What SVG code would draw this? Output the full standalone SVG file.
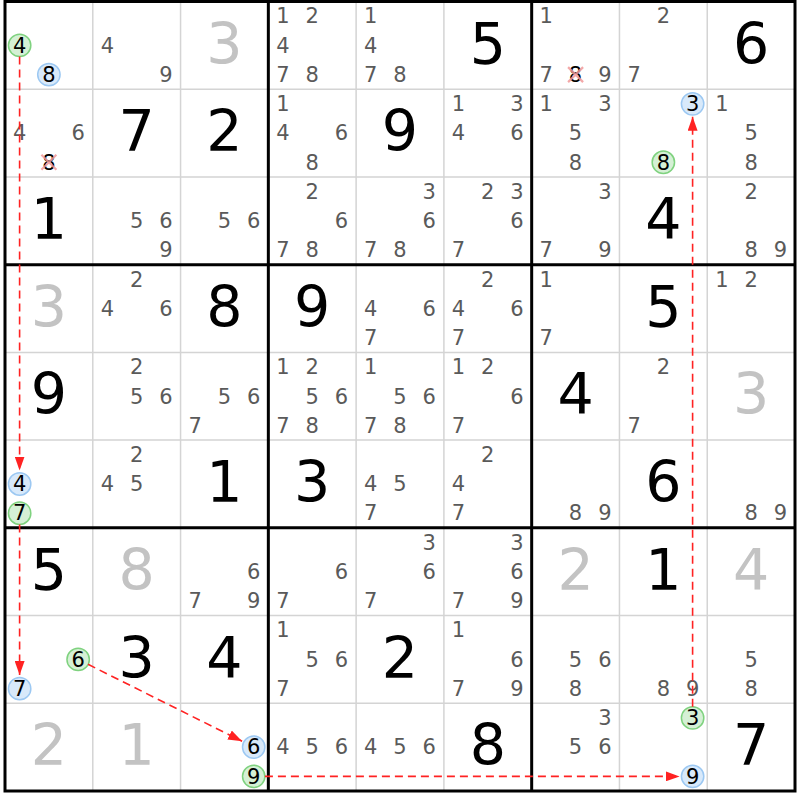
<svg xmlns="http://www.w3.org/2000/svg" width="800" height="800" viewBox="0 0 800 800">
<style>
.c{font-family:"DejaVu Sans",Verdana,sans-serif;font-size:21px;fill:#5a5a5a;text-anchor:middle}
.k{fill:#000}
.b{font-family:"DejaVu Sans",Verdana,sans-serif;font-size:57px;fill:#000;text-anchor:middle}
.g{fill:#c3c3c3}
.thin{stroke:#d4d4d4;stroke-width:1.5;fill:none}
.thick{stroke:#000;stroke-width:3;fill:none}
.on{fill:#d5f0d5;stroke:#7fd27f;stroke-width:1.5}
.off{fill:#d8e9fa;stroke:#9cc8f2;stroke-width:1.5}
.x{stroke:#f29a9a;stroke-width:2.2;opacity:0.85}
.link{stroke:#f22;stroke-width:1.6;stroke-dasharray:8 5;fill:none;marker-end:url(#ah)}
</style>
<defs>
<marker id="ah" markerUnits="userSpaceOnUse" markerWidth="14" markerHeight="10" refX="14" refY="5" orient="auto">
<path d="M0,0 L14,5 L0,10 z" fill="#f22"/>
</marker>
</defs>
<rect x="0" y="0" width="800" height="800" fill="#fff"/>
<g id="grid">
<path class="thin" d="M92.78,1.5V791 M180.56,1.5V791 M356.12,1.5V791 M443.9,1.5V791 M619.46,1.5V791 M707.24,1.5V791 M5,89.22H795 M5,176.94H795 M5,352.38H795 M5,440.1H795 M5,615.54H795 M5,703.26H795"/>
<path class="thick" d="M268.34,1.5V791 M531.68,1.5V791 M5,264.66H795 M5,527.82H795"/>
<rect class="thick" x="5" y="1.5" width="790" height="789.5"/>
</g>
<!-- row 0 -->
<g id="r0c0" transform="translate(5,1.5)"><circle class="on" cx="14.63" cy="43.86" r="11.2"/><circle class="off" cx="43.89" cy="73.1" r="11.2"/><text class="c k" x="14.63" y="51.2">4</text><text class="c k" x="43.89" y="80.4">8</text></g>
<g id="r0c1" transform="translate(92.78,1.5)"><text class="c" x="14.63" y="51.2">4</text><text class="c" x="73.15" y="80.4">9</text></g>
<g id="r0c2" transform="translate(180.56,1.5)"><text class="b g" x="43.89" y="62">3</text></g>
<g id="r0c3" transform="translate(268.34,1.5)"><text class="c" x="14.63" y="21.9">1</text><text class="c" x="43.89" y="21.9">2</text><text class="c" x="14.63" y="51.2">4</text><text class="c" x="14.63" y="80.4">7</text><text class="c" x="43.89" y="80.4">8</text></g>
<g id="r0c4" transform="translate(356.12,1.5)"><text class="c" x="14.63" y="21.9">1</text><text class="c" x="14.63" y="51.2">4</text><text class="c" x="14.63" y="80.4">7</text><text class="c" x="43.89" y="80.4">8</text></g>
<g id="r0c5" transform="translate(443.9,1.5)"><text class="b" x="43.89" y="62">5</text></g>
<g id="r0c6" transform="translate(531.68,1.5)"><text class="c" x="14.63" y="21.9">1</text><text class="c" x="14.63" y="80.4">7</text><text class="c k" x="43.89" y="80.4">8</text><path class="x" d="M36.4,65.6 L51.4,80.6 M51.4,65.6 L36.4,80.6"/><text class="c" x="73.15" y="80.4">9</text></g>
<g id="r0c7" transform="translate(619.46,1.5)"><text class="c" x="43.89" y="21.9">2</text><text class="c" x="14.63" y="80.4">7</text></g>
<g id="r0c8" transform="translate(707.24,1.5)"><text class="b" x="43.89" y="62">6</text></g>
<!-- row 1 -->
<g id="r1c0" transform="translate(5,89.22)"><text class="c" x="14.63" y="51.2">4</text><text class="c" x="73.15" y="51.2">6</text><text class="c k" x="43.89" y="80.4">8</text><path class="x" d="M36.4,65.6 L51.4,80.6 M51.4,65.6 L36.4,80.6"/></g>
<g id="r1c1" transform="translate(92.78,89.22)"><text class="b" x="43.89" y="62">7</text></g>
<g id="r1c2" transform="translate(180.56,89.22)"><text class="b" x="43.89" y="62">2</text></g>
<g id="r1c3" transform="translate(268.34,89.22)"><text class="c" x="14.63" y="21.9">1</text><text class="c" x="14.63" y="51.2">4</text><text class="c" x="73.15" y="51.2">6</text><text class="c" x="43.89" y="80.4">8</text></g>
<g id="r1c4" transform="translate(356.12,89.22)"><text class="b" x="43.89" y="62">9</text></g>
<g id="r1c5" transform="translate(443.9,89.22)"><text class="c" x="14.63" y="21.9">1</text><text class="c" x="73.15" y="21.9">3</text><text class="c" x="14.63" y="51.2">4</text><text class="c" x="73.15" y="51.2">6</text></g>
<g id="r1c6" transform="translate(531.68,89.22)"><text class="c" x="14.63" y="21.9">1</text><text class="c" x="73.15" y="21.9">3</text><text class="c" x="43.89" y="51.2">5</text><text class="c" x="43.89" y="80.4">8</text></g>
<g id="r1c7" transform="translate(619.46,89.22)"><circle class="off" cx="73.15" cy="14.62" r="11.2"/><circle class="on" cx="43.89" cy="73.1" r="11.2"/><text class="c k" x="73.15" y="21.9">3</text><text class="c k" x="43.89" y="80.4">8</text></g>
<g id="r1c8" transform="translate(707.24,89.22)"><text class="c" x="14.63" y="21.9">1</text><text class="c" x="43.89" y="51.2">5</text><text class="c" x="43.89" y="80.4">8</text></g>
<!-- row 2 -->
<g id="r2c0" transform="translate(5,176.94)"><text class="b" x="43.89" y="62">1</text></g>
<g id="r2c1" transform="translate(92.78,176.94)"><text class="c" x="43.89" y="51.2">5</text><text class="c" x="73.15" y="51.2">6</text><text class="c" x="73.15" y="80.4">9</text></g>
<g id="r2c2" transform="translate(180.56,176.94)"><text class="c" x="43.89" y="51.2">5</text><text class="c" x="73.15" y="51.2">6</text></g>
<g id="r2c3" transform="translate(268.34,176.94)"><text class="c" x="43.89" y="21.9">2</text><text class="c" x="73.15" y="51.2">6</text><text class="c" x="14.63" y="80.4">7</text><text class="c" x="43.89" y="80.4">8</text></g>
<g id="r2c4" transform="translate(356.12,176.94)"><text class="c" x="73.15" y="21.9">3</text><text class="c" x="73.15" y="51.2">6</text><text class="c" x="14.63" y="80.4">7</text><text class="c" x="43.89" y="80.4">8</text></g>
<g id="r2c5" transform="translate(443.9,176.94)"><text class="c" x="43.89" y="21.9">2</text><text class="c" x="73.15" y="21.9">3</text><text class="c" x="73.15" y="51.2">6</text><text class="c" x="14.63" y="80.4">7</text></g>
<g id="r2c6" transform="translate(531.68,176.94)"><text class="c" x="73.15" y="21.9">3</text><text class="c" x="14.63" y="80.4">7</text><text class="c" x="73.15" y="80.4">9</text></g>
<g id="r2c7" transform="translate(619.46,176.94)"><text class="b" x="43.89" y="62">4</text></g>
<g id="r2c8" transform="translate(707.24,176.94)"><text class="c" x="43.89" y="21.9">2</text><text class="c" x="43.89" y="80.4">8</text><text class="c" x="73.15" y="80.4">9</text></g>
<!-- row 3 -->
<g id="r3c0" transform="translate(5,264.66)"><text class="b g" x="43.89" y="62">3</text></g>
<g id="r3c1" transform="translate(92.78,264.66)"><text class="c" x="43.89" y="21.9">2</text><text class="c" x="14.63" y="51.2">4</text><text class="c" x="73.15" y="51.2">6</text></g>
<g id="r3c2" transform="translate(180.56,264.66)"><text class="b" x="43.89" y="62">8</text></g>
<g id="r3c3" transform="translate(268.34,264.66)"><text class="b" x="43.89" y="62">9</text></g>
<g id="r3c4" transform="translate(356.12,264.66)"><text class="c" x="14.63" y="51.2">4</text><text class="c" x="73.15" y="51.2">6</text><text class="c" x="14.63" y="80.4">7</text></g>
<g id="r3c5" transform="translate(443.9,264.66)"><text class="c" x="43.89" y="21.9">2</text><text class="c" x="14.63" y="51.2">4</text><text class="c" x="73.15" y="51.2">6</text><text class="c" x="14.63" y="80.4">7</text></g>
<g id="r3c6" transform="translate(531.68,264.66)"><text class="c" x="14.63" y="21.9">1</text><text class="c" x="14.63" y="80.4">7</text></g>
<g id="r3c7" transform="translate(619.46,264.66)"><text class="b" x="43.89" y="62">5</text></g>
<g id="r3c8" transform="translate(707.24,264.66)"><text class="c" x="14.63" y="21.9">1</text><text class="c" x="43.89" y="21.9">2</text></g>
<!-- row 4 -->
<g id="r4c0" transform="translate(5,352.38)"><text class="b" x="43.89" y="62">9</text></g>
<g id="r4c1" transform="translate(92.78,352.38)"><text class="c" x="43.89" y="21.9">2</text><text class="c" x="43.89" y="51.2">5</text><text class="c" x="73.15" y="51.2">6</text></g>
<g id="r4c2" transform="translate(180.56,352.38)"><text class="c" x="43.89" y="51.2">5</text><text class="c" x="73.15" y="51.2">6</text><text class="c" x="14.63" y="80.4">7</text></g>
<g id="r4c3" transform="translate(268.34,352.38)"><text class="c" x="14.63" y="21.9">1</text><text class="c" x="43.89" y="21.9">2</text><text class="c" x="43.89" y="51.2">5</text><text class="c" x="73.15" y="51.2">6</text><text class="c" x="14.63" y="80.4">7</text><text class="c" x="43.89" y="80.4">8</text></g>
<g id="r4c4" transform="translate(356.12,352.38)"><text class="c" x="14.63" y="21.9">1</text><text class="c" x="43.89" y="51.2">5</text><text class="c" x="73.15" y="51.2">6</text><text class="c" x="14.63" y="80.4">7</text><text class="c" x="43.89" y="80.4">8</text></g>
<g id="r4c5" transform="translate(443.9,352.38)"><text class="c" x="14.63" y="21.9">1</text><text class="c" x="43.89" y="21.9">2</text><text class="c" x="73.15" y="51.2">6</text><text class="c" x="14.63" y="80.4">7</text></g>
<g id="r4c6" transform="translate(531.68,352.38)"><text class="b" x="43.89" y="62">4</text></g>
<g id="r4c7" transform="translate(619.46,352.38)"><text class="c" x="43.89" y="21.9">2</text><text class="c" x="14.63" y="80.4">7</text></g>
<g id="r4c8" transform="translate(707.24,352.38)"><text class="b g" x="43.89" y="62">3</text></g>
<!-- row 5 -->
<g id="r5c0" transform="translate(5,440.1)"><circle class="off" cx="14.63" cy="43.86" r="11.2"/><circle class="on" cx="14.63" cy="73.1" r="11.2"/><text class="c k" x="14.63" y="51.2">4</text><text class="c k" x="14.63" y="80.4">7</text></g>
<g id="r5c1" transform="translate(92.78,440.1)"><text class="c" x="43.89" y="21.9">2</text><text class="c" x="14.63" y="51.2">4</text><text class="c" x="43.89" y="51.2">5</text></g>
<g id="r5c2" transform="translate(180.56,440.1)"><text class="b" x="43.89" y="62">1</text></g>
<g id="r5c3" transform="translate(268.34,440.1)"><text class="b" x="43.89" y="62">3</text></g>
<g id="r5c4" transform="translate(356.12,440.1)"><text class="c" x="14.63" y="51.2">4</text><text class="c" x="43.89" y="51.2">5</text><text class="c" x="14.63" y="80.4">7</text></g>
<g id="r5c5" transform="translate(443.9,440.1)"><text class="c" x="43.89" y="21.9">2</text><text class="c" x="14.63" y="51.2">4</text><text class="c" x="14.63" y="80.4">7</text></g>
<g id="r5c6" transform="translate(531.68,440.1)"><text class="c" x="43.89" y="80.4">8</text><text class="c" x="73.15" y="80.4">9</text></g>
<g id="r5c7" transform="translate(619.46,440.1)"><text class="b" x="43.89" y="62">6</text></g>
<g id="r5c8" transform="translate(707.24,440.1)"><text class="c" x="43.89" y="80.4">8</text><text class="c" x="73.15" y="80.4">9</text></g>
<!-- row 6 -->
<g id="r6c0" transform="translate(5,527.82)"><text class="b" x="43.89" y="62">5</text></g>
<g id="r6c1" transform="translate(92.78,527.82)"><text class="b g" x="43.89" y="62">8</text></g>
<g id="r6c2" transform="translate(180.56,527.82)"><text class="c" x="73.15" y="51.2">6</text><text class="c" x="14.63" y="80.4">7</text><text class="c" x="73.15" y="80.4">9</text></g>
<g id="r6c3" transform="translate(268.34,527.82)"><text class="c" x="73.15" y="51.2">6</text><text class="c" x="14.63" y="80.4">7</text></g>
<g id="r6c4" transform="translate(356.12,527.82)"><text class="c" x="73.15" y="21.9">3</text><text class="c" x="73.15" y="51.2">6</text><text class="c" x="14.63" y="80.4">7</text></g>
<g id="r6c5" transform="translate(443.9,527.82)"><text class="c" x="73.15" y="21.9">3</text><text class="c" x="73.15" y="51.2">6</text><text class="c" x="14.63" y="80.4">7</text><text class="c" x="73.15" y="80.4">9</text></g>
<g id="r6c6" transform="translate(531.68,527.82)"><text class="b g" x="43.89" y="62">2</text></g>
<g id="r6c7" transform="translate(619.46,527.82)"><text class="b" x="43.89" y="62">1</text></g>
<g id="r6c8" transform="translate(707.24,527.82)"><text class="b g" x="43.89" y="62">4</text></g>
<!-- row 7 -->
<g id="r7c0" transform="translate(5,615.54)"><circle class="on" cx="73.15" cy="43.86" r="11.2"/><circle class="off" cx="14.63" cy="73.1" r="11.2"/><text class="c k" x="73.15" y="51.2">6</text><text class="c k" x="14.63" y="80.4">7</text></g>
<g id="r7c1" transform="translate(92.78,615.54)"><text class="b" x="43.89" y="62">3</text></g>
<g id="r7c2" transform="translate(180.56,615.54)"><text class="b" x="43.89" y="62">4</text></g>
<g id="r7c3" transform="translate(268.34,615.54)"><text class="c" x="14.63" y="21.9">1</text><text class="c" x="43.89" y="51.2">5</text><text class="c" x="73.15" y="51.2">6</text><text class="c" x="14.63" y="80.4">7</text></g>
<g id="r7c4" transform="translate(356.12,615.54)"><text class="b" x="43.89" y="62">2</text></g>
<g id="r7c5" transform="translate(443.9,615.54)"><text class="c" x="14.63" y="21.9">1</text><text class="c" x="73.15" y="51.2">6</text><text class="c" x="14.63" y="80.4">7</text><text class="c" x="73.15" y="80.4">9</text></g>
<g id="r7c6" transform="translate(531.68,615.54)"><text class="c" x="43.89" y="51.2">5</text><text class="c" x="73.15" y="51.2">6</text><text class="c" x="43.89" y="80.4">8</text></g>
<g id="r7c7" transform="translate(619.46,615.54)"><text class="c" x="43.89" y="80.4">8</text><text class="c" x="73.15" y="80.4">9</text></g>
<g id="r7c8" transform="translate(707.24,615.54)"><text class="c" x="43.89" y="51.2">5</text><text class="c" x="43.89" y="80.4">8</text></g>
<!-- row 8 -->
<g id="r8c0" transform="translate(5,703.26)"><text class="b g" x="43.89" y="62">2</text></g>
<g id="r8c1" transform="translate(92.78,703.26)"><text class="b g" x="43.89" y="62">1</text></g>
<g id="r8c2" transform="translate(180.56,703.26)"><circle class="off" cx="73.15" cy="43.86" r="11.2"/><circle class="on" cx="73.15" cy="73.1" r="11.2"/><text class="c k" x="73.15" y="51.2">6</text><text class="c k" x="73.15" y="80.4">9</text></g>
<g id="r8c3" transform="translate(268.34,703.26)"><text class="c" x="14.63" y="51.2">4</text><text class="c" x="43.89" y="51.2">5</text><text class="c" x="73.15" y="51.2">6</text></g>
<g id="r8c4" transform="translate(356.12,703.26)"><text class="c" x="14.63" y="51.2">4</text><text class="c" x="43.89" y="51.2">5</text><text class="c" x="73.15" y="51.2">6</text></g>
<g id="r8c5" transform="translate(443.9,703.26)"><text class="b" x="43.89" y="62">8</text></g>
<g id="r8c6" transform="translate(531.68,703.26)"><text class="c" x="73.15" y="21.9">3</text><text class="c" x="43.89" y="51.2">5</text><text class="c" x="73.15" y="51.2">6</text></g>
<g id="r8c7" transform="translate(619.46,703.26)"><circle class="on" cx="73.15" cy="14.62" r="11.2"/><circle class="off" cx="73.15" cy="73.1" r="11.2"/><text class="c k" x="73.15" y="21.9">3</text><text class="c k" x="73.15" y="80.4">9</text></g>
<g id="r8c8" transform="translate(707.24,703.26)"><text class="b" x="43.89" y="62">7</text></g>
<g id="connectors">
<path class="link" d="M19.6,56.6 L19.6,470.5"/>
<path class="link" d="M19.6,524.4 L19.6,675"/>
<path class="link" d="M88,664.3 L242.1,741.3"/>
<path class="link" d="M264.9,776.4 L679.6,776.4"/>
<path class="link" d="M692.6,706.7 L692.6,116.8"/>
</g>
</svg>
